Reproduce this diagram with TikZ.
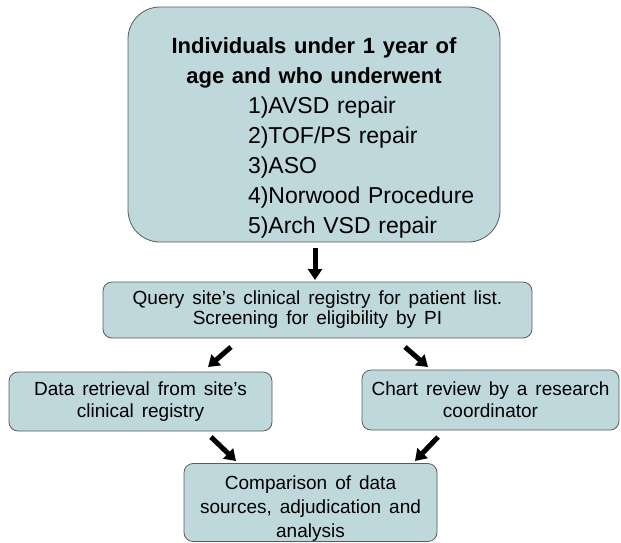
\documentclass[tikz,border=0pt]{standalone}
\usepackage{fontspec}
\setmainfont{Liberation Sans}
\usetikzlibrary{arrows.meta}
\definecolor{boxfill}{RGB}{190,216,220}
\definecolor{boxline}{RGB}{90,90,90}
\newcommand{\widegaps}{\spaceskip=0.42em\relax}

\begin{document}
\begin{tikzpicture}[x=1pt,y=-1pt,
  box/.style={draw=boxline,fill=boxfill,line width=0.8pt,rounded corners=9pt,
    align=center,inner sep=0pt,font=\fontsize{19}{22}\selectfont\widegaps},
  flow/.style={line width=5pt,-{Triangle[width=14pt,length=11pt]}}]
\useasboundingbox (0,0) rectangle (621,542);
\node [box,rounded corners=32pt,minimum width=372pt,minimum height=235pt,
  text width=372pt,align=left,font=\fontsize{23}{30}\selectfont] (elig) at (314,124.5)
  {\makebox[372pt][c]{\fontsize{22}{30}\selectfont\bfseries Individuals under 1 year of}\rule{0pt}{42pt}\\
   \makebox[372pt][c]{\fontsize{22}{30}\selectfont\bfseries age and who underwent}\\
   \hspace*{120pt}1)AVSD repair\\
   \hspace*{120pt}2)TOF/PS repair\\
   \hspace*{120pt}3)ASO\\
   \hspace*{120pt}4)Norwood Procedure\\
   \hspace*{120pt}5)Arch VSD repair};
\node [box,minimum width=429pt,minimum height=56pt,font=\fontsize{19}{20}\selectfont\widegaps] (query) at (317.5,310)
  {Query site’s clinical registry for patient list.\\Screening for eligibility by PI};
\node [box,minimum width=263pt,minimum height=59pt] (registry) at (140.5,401.5)
  {Data retrieval from site’s\\clinical registry};
\node [box,minimum width=257pt,minimum height=60pt] (chart) at (490.5,400)
  {Chart review by a research\\coordinator};
\node [box,minimum width=253pt,minimum height=77pt,font=\fontsize{19}{24}\selectfont\widegaps] (compare) at (310.5,502.5)
  {\rule{0pt}{26pt}Comparison of data\\sources, adjudication and\\analysis};
% arrows between the boxes
\coordinate (e1) at (315,248);   \coordinate (q1) at (315,280);
\coordinate (q2) at (231,347);   \coordinate (r1) at (208,367);
\coordinate (q3) at (405,347);   \coordinate (c1) at (428,367);
\coordinate (r2) at (211,437);   \coordinate (m1) at (236,461);
\coordinate (c2) at (438,437);   \coordinate (m2) at (415,461);
\draw [flow] (e1) -- (q1);
\draw [flow] (q2) -- (r1);
\draw [flow] (q3) -- (c1);
\draw [flow] (r2) -- (m1);
\draw [flow] (c2) -- (m2);
\end{tikzpicture}
\end{document}
